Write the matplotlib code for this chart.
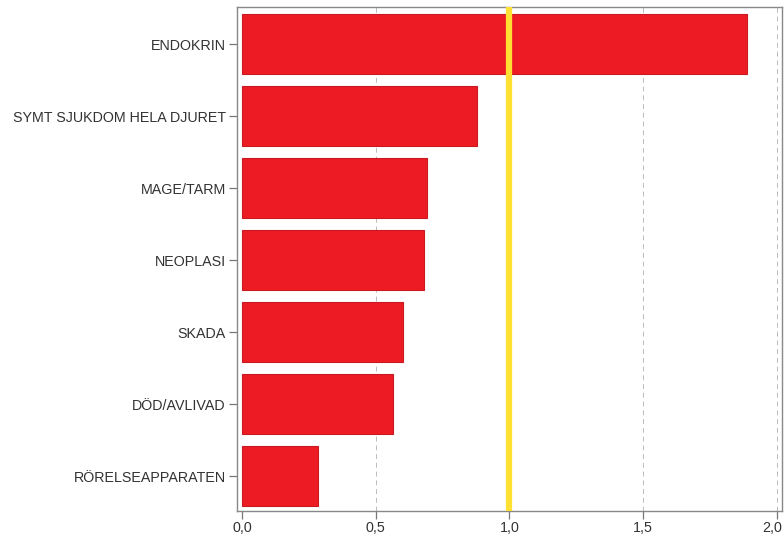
import matplotlib.pyplot as plt
from matplotlib.ticker import FuncFormatter
from matplotlib.transforms import ScaledTranslation

# data
categories = ['ENDOKRIN', 'SYMT SJUKDOM HELA DJURET', 'MAGE/TARM', 'NEOPLASI',
              'SKADA', 'DÖD/AVLIVAD', 'RÖRELSEAPPARATEN']
values = [1.888, 0.879, 0.692, 0.682, 0.602, 0.563, 0.283]
x_ticks = [0.0, 0.5, 1.0, 1.5, 2.0]
ref_value = 1.0

plt.rcParams['font.family'] = ['Liberation Sans', 'DejaVu Sans']

fig = plt.figure(figsize=(7.84, 5.42), dpi=100)
ax = fig.add_axes([237 / 784, 1 - 511 / 542, (782 - 237) / 784, (511 - 7) / 542])

pos = list(range(len(categories)))
ax.barh(pos, values, height=0.83, color='#ED1C24', edgecolor='#C81A20',
        linewidth=0.8, zorder=2)
ax.axvline(ref_value, color='#FFE033', linewidth=4.5, zorder=3)

# dashed grid, skipping the zero line
for t in x_ticks[1:]:
    ax.axvline(t, color='#BBBBBB', linestyle=(0, (5, 4)), linewidth=0.7, zorder=0)

ax.set_xlim(-0.0187, 2.02)
ax.set_ylim(6.486, -0.514)
ax.set_yticks(pos)
ax.set_yticklabels(categories)
ax.set_xticks(x_ticks)
ax.xaxis.set_major_formatter(FuncFormatter(lambda v, _: f'{v:.1f}'.replace('.', ',')))

for s in ax.spines.values():
    s.set_color('#888888')
    s.set_linewidth(1.0)

ax.tick_params(axis='both', colors='#777777', length=6, width=0.9,
               labelsize=10.3, labelcolor='#333333', pad=2)
ax.tick_params(axis='x', pad=1)

# last x label sits against the right edge, nudge it in
fig.canvas.draw()
last = ax.get_xticklabels()[-1]
last.set_transform(last.get_transform() + ScaledTranslation(-4 / 100, 0, fig.dpi_scale_trans))

fig.savefig('out.png', dpi=100, facecolor='white')
